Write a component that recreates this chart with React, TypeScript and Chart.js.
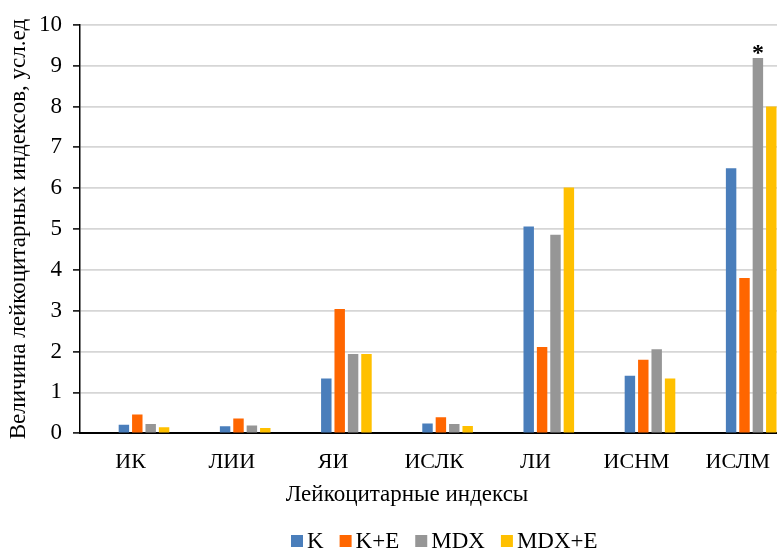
import React, { useEffect, useRef } from "react";
import { Chart, registerables } from "chart.js";

Chart.register(...registerables);

// ---- data ----
const categories = ["ИК", "ЛИИ", "ЯИ", "ИСЛК", "ЛИ", "ИСНМ", "ИСЛМ"];
const seriesNames = ["K", "K+E", "MDX", "MDX+E"];
const valuesK = [0.21, 0.17, 1.34, 0.24, 5.06, 1.41, 6.49];
const valuesKE = [0.46, 0.36, 3.04, 0.39, 2.11, 1.8, 3.8];
const valuesMDX = [0.23, 0.19, 1.94, 0.23, 4.86, 2.06, 9.19];
const valuesMDXE = [0.15, 0.13, 1.94, 0.18, 6.02, 1.34, 8.0];
const mdxMarks = ["", "", "", "", "", "", "*"];
const yMin = 0;
const yMax = 10;
const yStep = 1;
const xTitle = "Лейкоцитарные индексы";
const yTitle = "Величина лейкоцитарных индексов, усл.ед";

const seriesColors = ["#4A7EBB", "#FF6600", "#969696", "#FFC000"];
const FONT = "'Liberation Serif', 'Times New Roman', serif";

export default function App() {
  const ref = useRef<HTMLCanvasElement | null>(null);

  useEffect(() => {
    if (!ref.current) return;
    const seriesValues = [valuesK, valuesKE, valuesMDX, valuesMDXE];
    const spacer = categories.map(() => null);
    const datasets: any[] = [
      { label: "", data: spacer, backgroundColor: "rgba(0,0,0,0)" },
      { label: "", data: spacer, backgroundColor: "rgba(0,0,0,0)" },
      ...seriesNames.map((name, i) => ({
        label: name,
        data: seriesValues[i],
        backgroundColor: seriesColors[i],
        borderWidth: 0,
      })),
    ];

    const titleSize = 23;
    const titlePad = { top: 7.5, bottom: 6.2 };

    const overlay = {
      id: "overlay",
      afterDatasetsDraw(chart: any) {
        const ctx = chart.ctx;
        const mdxIndex = 2 + seriesNames.indexOf("MDX");
        const meta = chart.getDatasetMeta(mdxIndex);
        ctx.save();
        ctx.fillStyle = "#000";
        ctx.font = `bold 24px ${FONT}`;
        ctx.textAlign = "center";
        ctx.textBaseline = "alphabetic";
        mdxMarks.forEach((m, i) => {
          if (!m) return;
          const el = meta.data[i];
          ctx.fillText(m, el.x, el.y + 2);
        });
        ctx.restore();
      },
      afterDraw(chart: any) {
        const ctx = chart.ctx;
        const xs = chart.scales.x;
        const area = chart.chartArea;
        ctx.save();
        ctx.fillStyle = "#000";
        // x-axis title
        ctx.font = `${titleSize}px ${FONT}`;
        ctx.textAlign = "center";
        ctx.textBaseline = "middle";
        ctx.fillText(xTitle, area.left + 327, xs.bottom - (titleSize * 1.2) / 2 - titlePad.bottom);
        // legend
        const legendSize = 23;
        ctx.font = `${legendSize}px ${FONT}`;
        ctx.textAlign = "left";
        ctx.textBaseline = "middle";
        const yc = xs.bottom + 26;
        let x = area.left + 211;
        seriesNames.forEach((name, i) => {
          ctx.fillStyle = seriesColors[i];
          ctx.fillRect(x, yc - 6, 12, 12);
          ctx.fillStyle = "#000";
          ctx.fillText(name, x + 16, yc + 1);
          x += 16 + ctx.measureText(name).width + 16;
        });
        ctx.restore();
      },
    };

    const chart = new Chart(ref.current, {
      type: "bar",
      data: { labels: categories, datasets },
      plugins: [overlay],
      options: {
        animation: false,
        responsive: false,
        devicePixelRatio: 1,
        layout: { padding: { left: 0, right: 11.6, top: 23, bottom: 39 } },
        datasets: {
          bar: { categoryPercentage: 0.794, barPercentage: 0.78 },
        },
        plugins: {
          tooltip: { enabled: false },
          legend: { display: false },
        },
        scales: {
          x: {
            afterFit: (scale: any) => {
              scale.height = 81.7;
            },
            grid: { display: true, drawOnChartArea: false, drawTicks: false },
            border: { display: true, color: "#000", width: 2 },
            ticks: {
              color: "#000",
              padding: 16,
              font: { family: FONT, size: 22 },
              maxRotation: 0,
              autoSkip: false,
            },
            title: {
              display: true,
              text: xTitle,
              color: "rgba(0,0,0,0)",
              font: { family: FONT, size: titleSize },
              padding: titlePad,
            },
          },
          y: {
            min: yMin,
            max: yMax,
            afterFit: (scale: any) => {
              scale.width = 80;
            },
            grid: {
              color: "#D6D6D6",
              lineWidth: 1.8,
              tickColor: "#000",
              tickLength: 7,
              tickWidth: 1.5,
            },
            border: { display: true, color: "#000", width: 1.5 },
            ticks: {
              stepSize: yStep,
              color: "#000",
              padding: 11,
              font: { family: FONT, size: 23 },
            },
            title: {
              display: true,
              text: yTitle,
              color: "#000",
              font: { family: FONT, size: titleSize },
              padding: { top: 5, bottom: 0 },
            },
          },
        },
      },
    });
    return () => chart.destroy();
  }, []);

  return (
    <div
      style={{
        position: "fixed",
        left: 0,
        top: 0,
        width: 777,
        height: 554,
        overflow: "hidden",
        background: "#fff",
      }}
    >
      <canvas ref={ref} width={800} height={554} style={{ display: "block", width: 800, height: 554 }} />
    </div>
  );
}
